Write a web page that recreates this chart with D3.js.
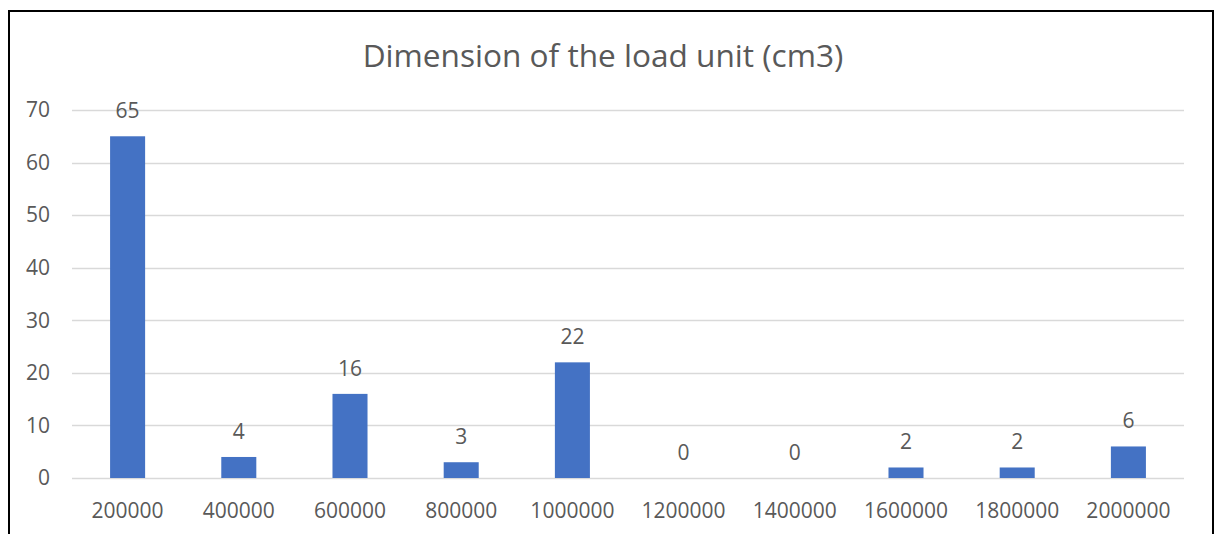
<!DOCTYPE html>
<html>
<head>
<meta charset="utf-8">
<style>
  body { margin: 0; background: #fff; }
  text { font-family: "Open Sans", "Noto Sans", sans-serif; fill: #595959; }
</style>
</head>
<body>
<svg width="1215" height="534"></svg>
<script src="https://d3js.org/d3.v7.min.js"></script>
<script>
    // data
    var categories = ["200000", "400000", "600000", "800000", "1000000",
                      "1200000", "1400000", "1600000", "1800000", "2000000"];
    var counts = [65, 4, 16, 3, 22, 0, 0, 2, 2, 6];
    var yTicks = [0, 10, 20, 30, 40, 50, 60, 70];
    var title = "Dimension of the load unit (cm3)";

    var svg = d3.select("svg");

    // outer frame (bottom edge is cut off in the original)
    svg.append("path")
        .attr("d", "M9,540 L9,11 L1213,11 L1213,540")
        .attr("fill", "none")
        .attr("stroke", "#000")
        .attr("stroke-width", 2);

    var plotLeft = 72, plotRight = 1184, plotTop = 110, plotBottom = 478;

    var x = d3.scaleBand()
        .domain(categories)
        .range([plotLeft, plotRight])
        .paddingInner(0.685)
        .paddingOuter(0.3425);

    var y = d3.scaleLinear()
        .domain([0, 70])
        .range([plotBottom, plotTop]);

    // gridlines
    svg.append("g")
        .selectAll("line")
        .data(yTicks)
        .enter().append("line")
        .attr("x1", plotLeft)
        .attr("x2", plotRight)
        .attr("y1", function(d) { return Math.round(y(d)) + 0.5; })
        .attr("y2", function(d) { return Math.round(y(d)) + 0.5; })
        .attr("stroke", "#d9d9d9")
        .attr("stroke-width", 1.3);

    // y axis labels
    var yAxis = svg.append("g")
        .attr("transform", "translate(" + (plotLeft - 6) + ",0)")
        .call(d3.axisLeft(y).tickValues(yTicks).tickSize(0).tickPadding(16));
    yAxis.select(".domain").remove();
    yAxis.selectAll("text")
        .attr("font-size", 21)
        .attr("fill", "#595959")
        .style("font-family", "'Open Sans', sans-serif");

    // x axis labels
    var xAxis = svg.append("g")
        .attr("transform", "translate(0," + plotBottom + ")")
        .call(d3.axisBottom(x).tickSize(0).tickPadding(25));
    xAxis.select(".domain").remove();
    xAxis.selectAll("text")
        .attr("font-size", 21)
        .attr("fill", "#595959")
        .style("font-family", "'Open Sans', sans-serif");

    // bars
    svg.append("g")
        .selectAll("rect")
        .data(counts)
        .enter().append("rect")
        .attr("x", function(d, i) { return x(categories[i]); })
        .attr("width", x.bandwidth())
        .attr("y", function(d) { return y(d); })
        .attr("height", function(d) { return y(0) - y(d); })
        .attr("fill", "#4472c4");

    // value labels
    svg.append("g")
        .selectAll("text")
        .data(counts)
        .enter().append("text")
        .attr("x", function(d, i) { return x(categories[i]) + x.bandwidth() / 2; })
        .attr("y", function(d) { return y(d) - 18; })
        .attr("text-anchor", "middle")
        .attr("font-size", 21)
        .attr("fill", "#404040")
        .text(function(d) { return d; });

    // title
    svg.append("text")
        .attr("x", 603)
        .attr("y", 67)
        .attr("text-anchor", "middle")
        .attr("font-size", 31.6)
        .text(title);
</script>
</body>
</html>
